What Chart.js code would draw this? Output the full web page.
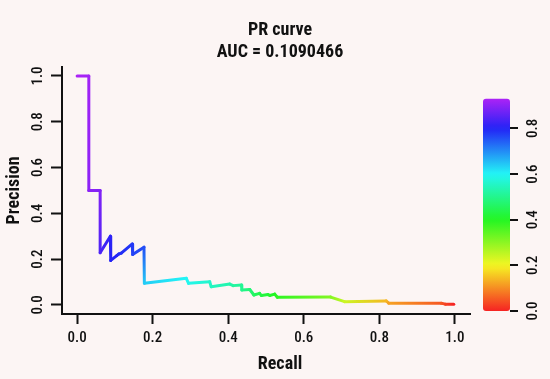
<!DOCTYPE html>
<html><head><meta charset="utf-8">
<script src="https://cdn.jsdelivr.net/npm/chart.js@4"></script>
<style>html,body{margin:0;padding:0;background:#fcf5f4;overflow:hidden}</style>
</head><body>
<canvas id="c" width="550" height="379" style="display:block;width:550px;height:379px"></canvas>
<script>
// ---- data ----
const recall    = [0.000, 0.031, 0.031, 0.061, 0.061, 0.088, 0.089, 0.105, 0.110, 0.117, 0.146, 0.147, 0.177, 0.178,
                   0.289, 0.295, 0.351, 0.355, 0.404, 0.413, 0.435, 0.436, 0.457, 0.468, 0.483, 0.488, 0.505, 0.510,
                   0.523, 0.530, 0.671, 0.708, 0.818, 0.825, 0.964, 0.975, 0.997];
const precision = [1.000, 1.000, 0.500, 0.500, 0.228, 0.300, 0.194, 0.215, 0.222, 0.226, 0.266, 0.220, 0.252, 0.094,
                   0.116, 0.094, 0.101, 0.079, 0.091, 0.084, 0.087, 0.065, 0.067, 0.043, 0.050, 0.041, 0.045, 0.041,
                   0.047, 0.033, 0.034, 0.014, 0.017, 0.0075, 0.007, 0.003, 0.003];
const cutoff    = [0.93, 0.92, 0.90, 0.89, 0.84, 0.81, 0.80, 0.80, 0.79, 0.79, 0.78, 0.77, 0.76, 0.64,
                   0.60, 0.59, 0.56, 0.55, 0.53, 0.52, 0.51, 0.50, 0.48, 0.46, 0.44, 0.43, 0.42, 0.41,
                   0.40, 0.39, 0.31, 0.24, 0.14, 0.12, 0.05, 0.03, 0.00];
const xTicks = [0, 0.2, 0.4, 0.6, 0.8, 1.0];
const yTicks = [0, 0.2, 0.4, 0.6, 0.8, 1.0];
const colorTicks = [0, 0.2, 0.4, 0.6, 0.8];
const titleLines = ['PR curve', 'AUC = 0.1090466'];
const xLabel = 'Recall';
const yLabel = 'Precision';

// ---- styling ----
const FONT = "'Roboto Condensed','DejaVu Sans Condensed',sans-serif";
const INK = '#111111';
function hueColor(v) { return 'hsl(' + (v * 300).toFixed(1) + ',92%,55%)'; }

const points = recall.map((r, i) => ({x: r, y: precision[i]}));

const bgPlugin = {
  id: 'bg',
  beforeDraw(chart) {
    const ctx = chart.ctx;
    ctx.save(); ctx.fillStyle = '#fcf5f4';
    ctx.fillRect(0, 0, chart.width, chart.height); ctx.restore();
  }
};

// x-axis title, centred under the chart title (as in the reference)
const xTitlePlugin = {
  id: 'xtitle',
  afterDraw(chart) {
    const ctx = chart.ctx, tb = chart.titleBlock, sx = chart.scales.x;
    ctx.save();
    ctx.font = 'bold 18px ' + FONT;
    ctx.fillStyle = INK; ctx.textAlign = 'center'; ctx.textBaseline = 'middle';
    ctx.fillText(xLabel, (tb.left + tb.right) / 2, sx.bottom - 15);
    ctx.restore();
  }
};

const colorbarPlugin = {
  id: 'colorbar',
  afterDraw(chart) {
    const s = chart.scales.y2, ctx = chart.ctx;
    const vMin = Math.min(...cutoff), vMax = Math.max(...cutoff);
    const yTop = s.getPixelForValue(vMax), yBot = s.getPixelForValue(vMin);
    const x0 = s.left + 13, w = 27;
    const g = ctx.createLinearGradient(0, yBot, 0, yTop);
    for (let i = 0; i <= 40; i++) { const t = i / 40; g.addColorStop(t, hueColor(vMin + t * (vMax - vMin))); }
    ctx.save();
    ctx.fillStyle = g;
    ctx.beginPath();
    if (ctx.roundRect) ctx.roundRect(x0, yTop, w, yBot - yTop, 3); else ctx.rect(x0, yTop, w, yBot - yTop);
    ctx.fill();
    ctx.strokeStyle = INK; ctx.lineWidth = 2;
    colorTicks.forEach(v => {
      const y = Math.round(s.getPixelForValue(v));
      ctx.beginPath(); ctx.moveTo(x0 + w, y); ctx.lineTo(x0 + w + 8, y); ctx.stroke();
    });
    ctx.restore();
  }
};

const tickFont = {family: FONT, size: 15, weight: '500'};
const titleFont = {family: FONT, size: 18, weight: 'bold'};

new Chart(document.getElementById('c'), {
  type: 'line',
  data: {
    datasets: [{
      data: points,
      borderWidth: 3,
      borderColor: hueColor(cutoff[0]),
      borderCapStyle: 'round',
      borderJoinStyle: 'round',
      pointRadius: 0,
      tension: 0,
      fill: false,
      segment: {
        borderColor: c => {
          const cx = (c.chart && c.chart.ctx) || document.getElementById('c').getContext('2d');
          const g = cx.createLinearGradient(c.p0.x, c.p0.y, c.p1.x, c.p1.y);
          g.addColorStop(0, hueColor(cutoff[c.p0DataIndex]));
          g.addColorStop(1, hueColor(cutoff[c.p1DataIndex]));
          return g;
        }
      }
    }]
  },
  options: {
    responsive: false,
    animation: false,
    devicePixelRatio: 1,
    layout: {padding: {left: 10, right: 0, top: 0, bottom: 0}},
    plugins: {
      legend: {display: false},
      tooltip: {enabled: false},
      title: {
        display: true, text: titleLines, color: INK,
        font: {family: FONT, size: 18, weight: 'bold', lineHeight: 1.19},
        padding: {top: 20, bottom: 4}
      }
    },
    scales: {
      x: {
        type: 'linear', min: -0.04, max: 1.04,
        afterBuildTicks: s => { s.ticks = xTicks.map(v => ({value: v})); },
        afterFit: s => { s.height = 65; },
        ticks: {callback: v => Number(v).toFixed(1), color: INK, font: tickFont, padding: 5, maxRotation: 0, autoSkip: false},
        grid: {drawOnChartArea: false, drawTicks: true, tickLength: 10, tickWidth: 2, tickColor: INK},
        border: {display: true, color: INK, width: 2},
        title: {display: false}
      },
      y: {
        type: 'linear', position: 'left', min: -0.04, max: 1.04,
        afterBuildTicks: s => { s.ticks = yTicks.map(v => ({value: v})); },
        afterFit: s => { s.width = 52; },
        ticks: {callback: v => Number(v).toFixed(1), color: INK, font: tickFont, padding: 3,
                minRotation: 90, maxRotation: 90, crossAlign: 'center', autoSkip: false},
        grid: {drawOnChartArea: false, drawTicks: true, tickLength: 11, tickWidth: 2, tickColor: INK},
        border: {display: true, color: INK, width: 2},
        title: {display: true, text: yLabel, color: INK, font: {family: FONT, size: 18, weight: 'bold', lineHeight: 0.5}, padding: {top: 0, bottom: 0}}
      },
      y2: {
        type: 'linear', position: 'right', min: -0.013, max: 1.07,
        afterBuildTicks: s => { s.ticks = colorTicks.map(v => ({value: v})); },
        afterFit: s => { s.width = 80; },
        ticks: {callback: v => Number(v).toFixed(1), color: INK, font: tickFont, padding: 54,
                minRotation: 90, maxRotation: 90, crossAlign: 'center', autoSkip: false},
        grid: {display: false, drawTicks: false, tickLength: 0},
        border: {display: false}
      }
    }
  },
  plugins: [bgPlugin, xTitlePlugin, colorbarPlugin]
});
</script>
</body></html>
